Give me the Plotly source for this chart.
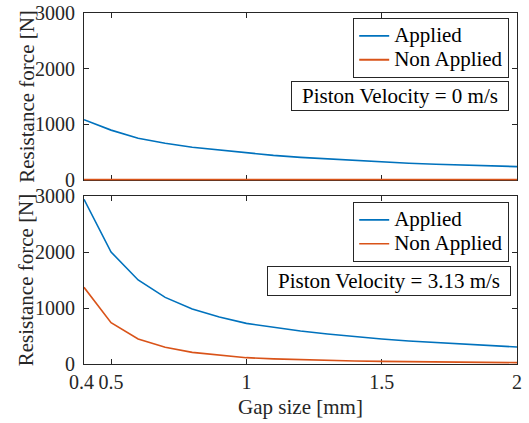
import plotly.graph_objects as go
from plotly.subplots import make_subplots

gap_mm = [0.4, 0.5, 0.6, 0.7, 0.8, 0.9, 1.0, 1.1, 1.2, 1.3, 1.4, 1.5, 1.6, 1.7, 1.8, 1.9, 2.0]

# Piston velocity = 0 m/s
applied_v0 = [1080, 893, 748, 657, 586, 533, 479, 438, 402, 373, 345, 318, 298, 280, 263, 250, 237]
non_applied_v0 = [0, 0, 0, 0, 0, 0, 0, 0, 0, 0, 0, 0, 0, 0, 0, 0, 0]

# Piston velocity = 3.13 m/s
applied_v313 = [2940, 2000, 1500, 1190, 982, 839, 725, 655, 589, 536, 488, 446, 411, 381, 351, 327, 304]
non_applied_v313 = [1369, 738, 446, 298, 208, 155, 113, 92, 76, 63, 54, 46, 40, 35, 30, 27, 24]

x_ticks = [0.4, 0.5, 1, 1.5, 2]
x_ticklabels = ["0.4\u00a0", "0.5", "1", "1.5", "2"]
y_ticks = [0, 1000, 2000, 3000]
series_names = ["Applied", "Non Applied"]
y_title = "Resistance force [N]"
x_title = "Gap size [mm]"
notes = ["Piston Velocity = 0 m/s", "Piston Velocity = 3.13 m/s"]

BLUE = "#0072BD"
ORANGE = "#D95319"
AX = "#262626"
FONT = "Liberation Serif"
FS = 21
TFS = 20


def lname(s):
    return '<span style="font-size:%dpx">%s</span>' % (FS, s)


fig = make_subplots(rows=2, cols=1, shared_xaxes=False, vertical_spacing=0.0)

fig.add_trace(go.Scatter(x=gap_mm, y=applied_v0, mode="lines", name=lname(series_names[0]),
                         line=dict(color=BLUE, width=1.6), legend="legend"), row=1, col=1)
fig.add_trace(go.Scatter(x=gap_mm, y=non_applied_v0, mode="lines", name=lname(series_names[1]),
                         line=dict(color=ORANGE, width=2.0), legend="legend"), row=1, col=1)
fig.add_trace(go.Scatter(x=gap_mm, y=applied_v313, mode="lines", name=lname(series_names[0]),
                         line=dict(color=BLUE, width=1.6), legend="legend2"), row=2, col=1)
fig.add_trace(go.Scatter(x=gap_mm, y=non_applied_v313, mode="lines", name=lname(series_names[1]),
                         line=dict(color=ORANGE, width=1.6), legend="legend2"), row=2, col=1)

axis_common = dict(showline=True, linecolor=AX, linewidth=1, mirror="ticks",
                   ticks="inside", ticklen=5, tickcolor=AX, tickwidth=1,
                   showgrid=False, zeroline=False, automargin=False,
                   layer="below traces",
                   tickfont=dict(family=FONT, size=TFS, color=AX))

for r in (1, 2):
    fig.update_xaxes(range=[0.4, 2], tickmode="array", tickvals=x_ticks,
                     ticktext=x_ticklabels, showticklabels=(r == 2), tickangle=0,
                     row=r, col=1, **axis_common)
    fig.update_yaxes(range=[-12 if r == 1 else 0, 3000], tickmode="array", tickvals=y_ticks,
                     ticklabelstandoff=4,
                     row=r, col=1, **axis_common)

fig.update_xaxes(title=dict(text=x_title, standoff=7,
                            font=dict(family=FONT, size=FS, color=AX)), row=2, col=1)

fig.update_layout(
    xaxis=dict(domain=[0, 1]),
    yaxis=dict(domain=[0.523, 1.0]),
    yaxis2=dict(domain=[0.0, 0.4786]),
)

legend_common = dict(bgcolor="white", bordercolor=AX, borderwidth=1,
                     font=dict(family=FONT, size=16, color="black"),
                     xanchor="right", yanchor="top", xref="paper", yref="paper",
                     tracegroupgap=0, itemwidth=30)

fig.update_layout(
    template="none",
    width=529, height=423,
    margin=dict(l=84, r=12, t=13, b=59),
    plot_bgcolor="white", paper_bgcolor="white",
    showlegend=True,
    legend=dict(x=0.982, y=0.9858, **legend_common),
    legend2=dict(x=0.982, y=0.4615, **legend_common),
    font=dict(family=FONT, size=FS, color=AX),
)

# y-axis titles (one per panel)
for yc in (0.762, 0.239):
    fig.add_annotation(text=y_title, xref="paper", yref="paper", x=-0.1335, y=yc,
                       xanchor="center", yanchor="middle", textangle=-90, showarrow=False,
                       font=dict(family=FONT, size=FS, color=AX))

fig.add_annotation(text=notes[0], xref="paper", yref="paper",
                   x=0.982, y=0.805, xanchor="right", yanchor="top", showarrow=False,
                   font=dict(family=FONT, size=FS, color="black"),
                   bgcolor="white", bordercolor=AX, borderwidth=1, borderpad=1,
                   width=214, height=26)
fig.add_annotation(text=notes[1], xref="paper", yref="paper",
                   x=0.986, y=0.279, xanchor="right", yanchor="top", showarrow=False,
                   font=dict(family=FONT, size=FS, color="black"),
                   bgcolor="white", bordercolor=AX, borderwidth=1, borderpad=1,
                   width=240, height=26)

fig.write_html("out.html", config={"displayModeBar": False},
               post_script="document.body.style.margin='0';document.body.style.overflow='hidden';")
